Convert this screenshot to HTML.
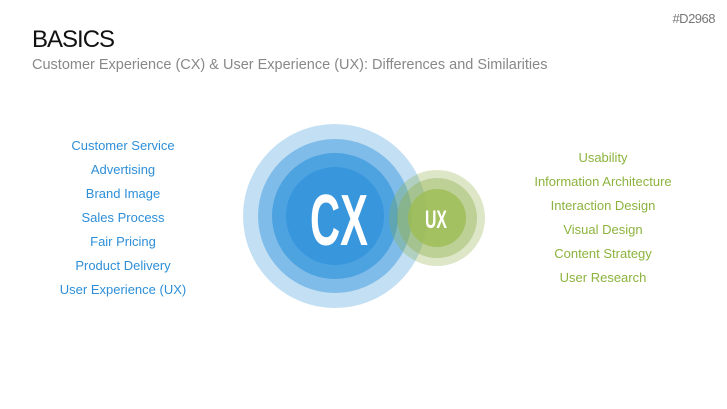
<!DOCTYPE html>
<html><head><meta charset="utf-8"><style>
body{margin:0;width:727px;height:409px;background:#fff;position:relative;overflow:hidden;font-family:"Liberation Sans",sans-serif}
.t{position:absolute;white-space:nowrap}
.l{position:absolute;width:200px;text-align:center;font-size:13px;line-height:24px}
</style></head><body>
<div class="t" style="right:12px;top:11px;font-size:13px;color:#777;letter-spacing:-0.5px">#D2968</div>
<div class="t" style="left:32px;top:26px;font-size:24px;color:#111;letter-spacing:-1px">BASICS</div>
<div class="t" style="left:32px;top:57px;font-size:14.5px;color:#888;letter-spacing:0px">Customer Experience (CX) &amp; User Experience (UX): Differences and Similarities</div>
<div class="l" style="left:23px;top:134px;color:#2e8fd8">Customer Service<br>Advertising<br>Brand Image<br>Sales Process<br>Fair Pricing<br>Product Delivery<br>User Experience (UX)</div>
<div class="l" style="left:503px;top:146px;color:#8db33e">Usability<br>Information Architecture<br>Interaction Design<br>Visual Design<br>Content Strategy<br>User Research</div>
<svg width="727" height="409" style="position:absolute;left:0;top:0">
<circle cx="335" cy="216" r="92" fill="#c2dff3"/>
<circle cx="335" cy="216" r="77" fill="#7fbce9"/>
<circle cx="335" cy="216" r="63" fill="#4da2e0"/>
<circle cx="335" cy="216" r="49" fill="#3896dd"/>
<circle cx="437" cy="218" r="48" fill="#8fb04a" fill-opacity="0.3"/>
<circle cx="437" cy="218" r="40" fill="#8fb04a" fill-opacity="0.4"/>
<circle cx="437" cy="218" r="29" fill="#9cbd52" fill-opacity="0.8"/>
<text x="339" y="245" text-anchor="middle" font-family="Liberation Sans, sans-serif" font-size="72" font-weight="bold" fill="#fff" textLength="58" lengthAdjust="spacingAndGlyphs">CX</text>
<text x="436" y="228" text-anchor="middle" font-family="Liberation Sans, sans-serif" font-size="25" font-weight="bold" fill="#fff" textLength="22" lengthAdjust="spacingAndGlyphs">UX</text>
</svg>
</body></html>
